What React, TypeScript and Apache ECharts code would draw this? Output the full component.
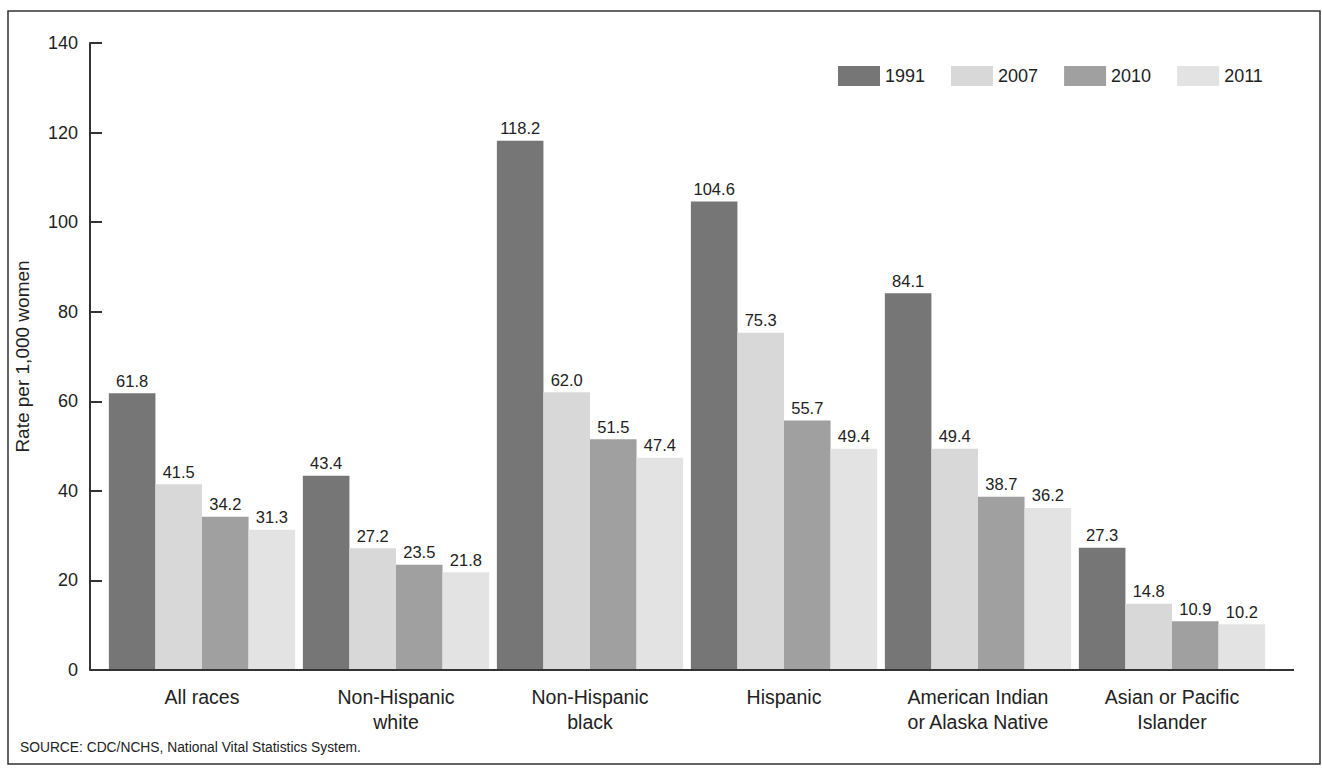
import React, { useEffect, useRef } from "react";
import * as echarts from "echarts";

const categories = [
  "All races",
  "Non-Hispanic\nwhite",
  "Non-Hispanic\nblack",
  "Hispanic",
  "American Indian\nor Alaska Native",
  "Asian or Pacific\nIslander",
];
const years = ["1991", "2007", "2010", "2011"];
const values1991 = [61.8, 43.4, 118.2, 104.6, 84.1, 27.3];
const values2007 = [41.5, 27.2, 62.0, 75.3, 49.4, 14.8];
const values2010 = [34.2, 23.5, 51.5, 55.7, 38.7, 10.9];
const values2011 = [31.3, 21.8, 47.4, 49.4, 36.2, 10.2];
const seriesValues = [values1991, values2007, values2010, values2011];
const colors = ["#767676", "#d8d8d8", "#a0a0a0", "#e3e3e3"];
const yTicks = [0, 20, 40, 60, 80, 100, 120, 140];

const FONT = "Liberation Sans, Arial, sans-serif";

export default function App() {
  const ref = useRef<HTMLDivElement>(null);
  useEffect(() => {
    document.body.style.margin = "0";
    const chart = echarts.init(ref.current!, undefined, { renderer: "svg" });
    chart.setOption({
      animation: false,
      backgroundColor: "#ffffff",
      textStyle: { fontFamily: FONT },
      legend: {
        left: 838,
        top: 66,
        padding: 0,
        itemWidth: 42,
        itemHeight: 20,
        itemGap: 26,
        icon: "rect",
        data: years,
        textStyle: { fontSize: 18, color: "#222", fontFamily: FONT },
      },
      grid: { left: 105, right: 1322 - 1269, top: 43, bottom: 772 - 670, containLabel: false },
      xAxis: {
        type: "category",
        data: categories,
        axisLine: { show: false },
        axisTick: { show: false },
        axisLabel: {
          fontSize: 19.5,
          color: "#222",
          lineHeight: 25,
          margin: 14,
          interval: 0,
          fontFamily: FONT,
        },
      },
      yAxis: {
        type: "value",
        min: yTicks[0],
        max: yTicks[yTicks.length - 1],
        interval: 20,
        offset: 15,
        name: "Rate per 1,000 women",
        nameLocation: "middle",
        nameGap: 58,
        nameTextStyle: { fontSize: 19, color: "#222", fontFamily: FONT },
        axisLine: { show: true, lineStyle: { color: "#333", width: 2 } },
        axisTick: { show: true, inside: true, length: 12, lineStyle: { color: "#333", width: 2 } },
        axisLabel: { fontSize: 18, color: "#222", margin: 12, fontFamily: FONT },
        splitLine: { show: false },
      },
      series: years.map((y, i) => ({
        name: y,
        type: "bar",
        data: seriesValues[i],
        barGap: "0%",
        barCategoryGap: "4%",
        itemStyle: { color: colors[i] },
        label: {
          show: true,
          position: "top",
          distance: 4,
          fontSize: 16.5,
          color: "#222",
          fontFamily: FONT,
          formatter: (p: any) => Number(p.value).toFixed(1),
        },
      })),
      graphic: [
        {
          type: "rect",
          shape: { x: 8, y: 11, width: 1312, height: 753 },
          style: { fill: "none", stroke: "#333", lineWidth: 1.5 },
          silent: true,
        },
        {
          type: "line",
          shape: { x1: 90, y1: 670, x2: 1294, y2: 670 },
          style: { stroke: "#333", lineWidth: 2 },
          z: 100,
        },
        {
          type: "text",
          left: 20,
          top: 740,
          style: {
            text: "SOURCE: CDC/NCHS, National Vital Statistics System.",
            fontSize: 13.8,
            fill: "#222",
            fontFamily: FONT,
          },
        },
      ],
    });
    return () => chart.dispose();
  }, []);
  return <div ref={ref} style={{ width: 1322, height: 772 }} />;
}
